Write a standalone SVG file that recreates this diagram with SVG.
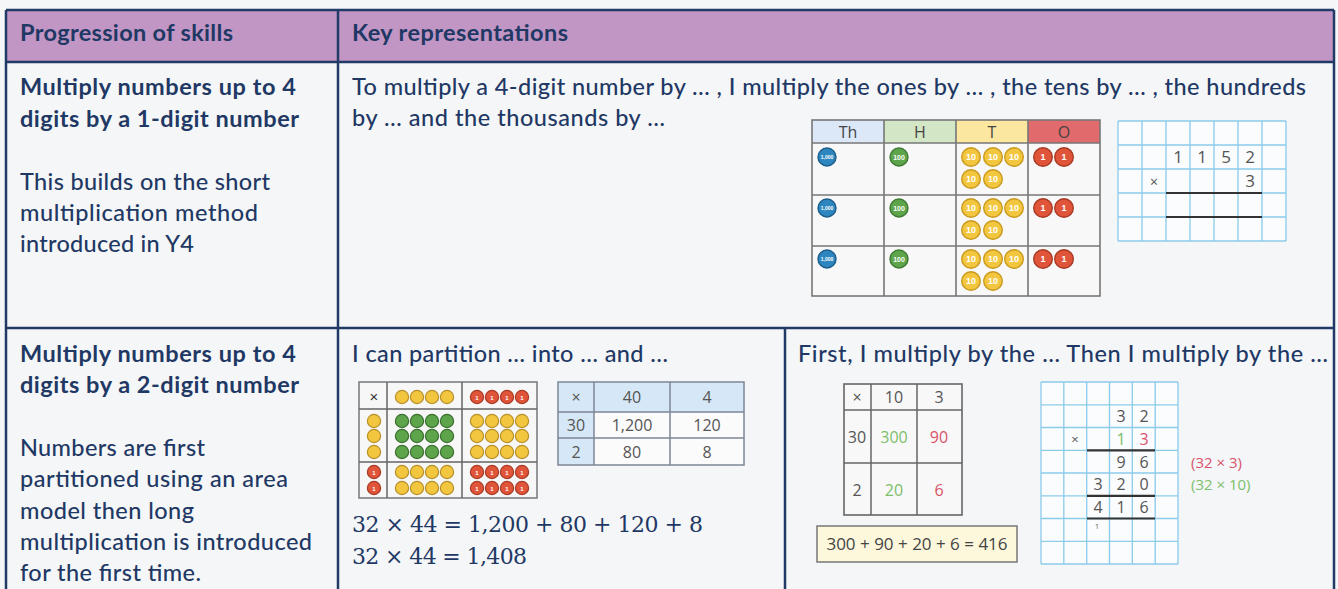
<svg xmlns="http://www.w3.org/2000/svg" xmlns:xlink="http://www.w3.org/1999/xlink" width="1338" height="589" viewBox="0 0 1338 589">
<style>
.t{font-family:Lato,"Open Sans","Liberation Sans",sans-serif;fill:#1f3864;font-size:23.5px;font-weight:500}
.b{font-weight:bold}
.m{font-family:"DejaVu Serif","Liberation Serif",serif;fill:#1f3864;font-size:22px}
.g{font-family:"Open Sans","Liberation Sans",sans-serif;fill:#555;font-size:16px;text-anchor:middle}
.grid{stroke:#8ccbea;stroke-width:1.3;fill:none}
.thick{stroke:#333;stroke-width:2.2}
.cell{stroke:#666;stroke-width:1.5;fill:none}
.ct{font-family:"Liberation Sans",sans-serif;font-size:7px;fill:#fff;text-anchor:middle;font-weight:bold}
</style>
<defs>
<g id="cy"><circle r="9.3" fill="#f3c63f" stroke="#c89a1e" stroke-width="1.4"/><text class="ct" y="3" style="font-size:9px">10</text></g>
<g id="cr"><circle r="9.3" fill="#e0553a" stroke="#a83a25" stroke-width="1.4"/><text class="ct" y="3" style="font-size:9px">1</text></g>
<g id="cg"><circle r="9" fill="#5ea44b" stroke="#3f7a35" stroke-width="1.4"/><text class="ct" y="2.5">100</text></g>
<g id="cb"><circle r="9" fill="#2e86c0" stroke="#1d5d8a" stroke-width="1.4"/><text class="ct" y="2" style="font-size:5px">1,000</text></g>
<g id="sy"><circle r="6.6" fill="#f3c63f" stroke="#b8902a" stroke-width="1.2"/></g>
<g id="sr"><circle r="6.6" fill="#e0553a" stroke="#a83a25" stroke-width="1.2"/><text class="ct" y="2.5" style="font-size:6px">1</text></g>
<g id="sg"><circle r="6.6" fill="#5ea44b" stroke="#3b7030" stroke-width="1.2"/></g>
</defs>
<rect width="1338" height="589" fill="#f4f6f8"/>

<g id="table">
<rect x="6" y="10" width="1328" height="52" fill="#c196c4"/>
<g stroke="#213a66" stroke-width="2.5" fill="none">
<path d="M6 10 H1334 M6 62 H1334 M6 328 H1334 M6 10 V589 M1334 10 V589 M338 10 V589 M785 328 V589"/>
</g>
<text class="t b" x="20" y="41" textLength="213">Progression of skills</text>
<text class="t b" x="352" y="41" textLength="216">Key representations</text>
</g>

<g id="row1-skill">
<text class="t b" x="20" y="95" textLength="276">Multiply numbers up to 4</text>
<text class="t b" x="20" y="127" textLength="279">digits by a 1-digit number</text>
<text class="t" x="20" y="190" textLength="250">This builds on the short</text>
<text class="t" x="20" y="221" textLength="238">multiplication method</text>
<text class="t" x="20" y="252" textLength="174">introduced in Y4</text>
</g>

<g id="row1-rep">
<text class="t" x="352" y="95" textLength="954">To multiply a 4-digit number by … , I multiply the ones by … , the tens by … , the hundreds</text>
<text class="t" x="352" y="126" textLength="313">by … and the thousands by …</text>
</g>

<g id="pv-chart">
<rect x="812" y="120" width="72" height="23" fill="#dce8f8"/>
<rect x="884" y="120" width="72" height="23" fill="#d3e6c6"/>
<rect x="956" y="120" width="72" height="23" fill="#fbe7a0"/>
<rect x="1028" y="120" width="72" height="23" fill="#e06a6c"/>
<rect x="812" y="143" width="288" height="153" fill="#f8f8f8"/>
<g stroke="#777" stroke-width="1.6" fill="none">
<rect x="812" y="120" width="288" height="176"/>
<path d="M812 143H1100 M812 195H1100 M812 246H1100 M884 120V296 M956 120V296 M1028 120V296"/>
</g>
<g font-family="Open Sans,Liberation Sans,sans-serif" font-size="16" fill="#444" text-anchor="middle">
<text x="848" y="138">Th</text><text x="920" y="138">H</text><text x="992" y="138">T</text><text x="1064" y="138">O</text>
</g>
<g id="pvrow">
<use href="#cb" x="827" y="157"/>
<use href="#cg" x="899" y="157"/>
<use href="#cy" x="971" y="157"/><use href="#cy" x="993" y="157"/><use href="#cy" x="1014" y="157"/>
<use href="#cy" x="971" y="179"/><use href="#cy" x="993" y="179"/>
<use href="#cr" x="1043" y="157"/><use href="#cr" x="1064" y="157"/>
</g>
<use href="#pvrow" y="51"/>
<use href="#pvrow" y="102"/>
</g>

<g id="grid1">
<rect x="1118" y="121" width="168" height="120" fill="#fafcfd"/>
<path class="grid" d="M1118 121H1286 M1118 145H1286 M1118 169H1286 M1118 193H1286 M1118 217H1286 M1118 241H1286 M1118 121V241 M1142 121V241 M1166 121V241 M1190 121V241 M1214 121V241 M1238 121V241 M1262 121V241 M1286 121V241"/>
<path class="thick" d="M1166 193H1262 M1166 217H1262"/>
<g class="g" style="font-size:17px">
<text x="1178" y="163">1</text><text x="1202" y="163">1</text><text x="1226" y="163">5</text><text x="1250" y="163">2</text>
<text x="1154" y="187" style="font-size:14px">×</text><text x="1250" y="187">3</text>
</g>
</g>

<g id="row2-skill">
<text class="t b" x="20" y="362" textLength="276">Multiply numbers up to 4</text>
<text class="t b" x="20" y="393" textLength="279">digits by a 2-digit number</text>
<text class="t" x="20" y="456" textLength="185">Numbers are first</text>
<text class="t" x="20" y="487" textLength="268">partitioned using an area</text>
<text class="t" x="20" y="519" textLength="174">model then long</text>
<text class="t" x="20" y="550" textLength="292">multiplication is introduced</text>
<text class="t" x="20" y="581" textLength="181">for the first time.</text>
</g>

<g id="row2-partition">
<text class="t" x="352" y="362" textLength="316">I can partition … into … and …</text>
<text class="m" x="352" y="532" textLength="351">32 × 44 = 1,200 + 80 + 120 + 8</text>
<text class="m" x="352" y="564" textLength="175">32 × 44 = 1,408</text>
</g>

<g id="area-model">
<rect x="359" y="382" width="178" height="116" fill="#f7f7f7" stroke="#777" stroke-width="1.5"/>
<path class="cell" d="M387 382V498 M462 382V498 M359 409H537 M359 462H537"/>
<text x="374" y="402" font-family="Liberation Sans,sans-serif" font-size="15" fill="#333" text-anchor="middle">×</text>
<g>
<use href="#sy" x="402" y="397"/><use href="#sy" x="417" y="397"/><use href="#sy" x="432" y="397"/><use href="#sy" x="447" y="397"/>
<use href="#sr" x="477" y="397"/><use href="#sr" x="492" y="397"/><use href="#sr" x="507" y="397"/><use href="#sr" x="522" y="397"/>
<use href="#sy" x="374" y="421"/><use href="#sy" x="374" y="436"/><use href="#sy" x="374" y="452"/>
<use href="#sr" x="374" y="472"/><use href="#sr" x="374" y="488"/>
</g>
<g id="gblock">
<use href="#sg" x="402" y="421"/><use href="#sg" x="417" y="421"/><use href="#sg" x="432" y="421"/><use href="#sg" x="447" y="421"/>
<use href="#sg" x="402" y="436"/><use href="#sg" x="417" y="436"/><use href="#sg" x="432" y="436"/><use href="#sg" x="447" y="436"/>
<use href="#sg" x="402" y="452"/><use href="#sg" x="417" y="452"/><use href="#sg" x="432" y="452"/><use href="#sg" x="447" y="452"/>
</g>
<g>
<use href="#sy" x="477" y="421"/><use href="#sy" x="492" y="421"/><use href="#sy" x="507" y="421"/><use href="#sy" x="522" y="421"/>
<use href="#sy" x="477" y="436"/><use href="#sy" x="492" y="436"/><use href="#sy" x="507" y="436"/><use href="#sy" x="522" y="436"/>
<use href="#sy" x="477" y="452"/><use href="#sy" x="492" y="452"/><use href="#sy" x="507" y="452"/><use href="#sy" x="522" y="452"/>
<use href="#sy" x="402" y="472"/><use href="#sy" x="417" y="472"/><use href="#sy" x="432" y="472"/><use href="#sy" x="447" y="472"/>
<use href="#sy" x="402" y="488"/><use href="#sy" x="417" y="488"/><use href="#sy" x="432" y="488"/><use href="#sy" x="447" y="488"/>
<use href="#sr" x="477" y="472"/><use href="#sr" x="492" y="472"/><use href="#sr" x="507" y="472"/><use href="#sr" x="522" y="472"/>
<use href="#sr" x="477" y="488"/><use href="#sr" x="492" y="488"/><use href="#sr" x="507" y="488"/><use href="#sr" x="522" y="488"/>
</g>
</g>

<g id="grid-table">
<rect x="558" y="382" width="186" height="83" fill="#fbfbfb"/>
<rect x="558" y="382" width="186" height="30" fill="#d6e8f7"/>
<rect x="558" y="382" width="36" height="83" fill="#d6e8f7"/>
<g stroke="#7d8796" stroke-width="1.5" fill="none">
<rect x="558" y="382" width="186" height="83"/>
<path d="M594 382V465 M670 382V465 M558 412H744 M558 438H744"/>
</g>
<g class="g">
<text x="576" y="403">×</text><text x="632" y="403">40</text><text x="707" y="403">4</text>
<text x="576" y="431">30</text><text x="632" y="431">1,200</text><text x="707" y="431">120</text>
<text x="576" y="458">2</text><text x="632" y="458">80</text><text x="707" y="458">8</text>
</g>
</g>

<g id="row2-column">
<text class="t" x="798" y="362" textLength="530">First, I multiply by the … Then I multiply by the …</text>
</g>

<g id="area-10-3">
<rect x="844" y="384" width="118" height="131" fill="#f8f8f8" stroke="#666" stroke-width="1.6"/>
<path class="cell" d="M871 384V515 M917 384V515 M844 410H962 M844 463H962"/>
<g class="g">
<text x="857" y="403">×</text><text x="894" y="403">10</text><text x="939" y="403">3</text>
<text x="857" y="443">30</text><text x="894" y="443" fill="#7cbf6a">300</text><text x="939" y="443" fill="#d9536a">90</text>
<text x="857" y="496">2</text><text x="894" y="496" fill="#7cbf6a">20</text><text x="939" y="496" fill="#d9536a">6</text>
</g>
</g>

<g id="sum-box">
<rect x="817" y="526" width="200" height="36" fill="#fdf8dc" stroke="#777" stroke-width="1.5"/>
<text class="g" x="917" y="550" style="font-size:17px;fill:#444">300 + 90 + 20 + 6 = 416</text>
</g>

<g id="grid2">
<rect x="1041" y="382" width="137" height="182" fill="#fafcfd"/>
<path class="grid" d="M1041 382H1178 M1041 404.8H1178 M1041 427.5H1178 M1041 450.3H1178 M1041 473H1178 M1041 495.8H1178 M1041 518.5H1178 M1041 541.3H1178 M1041 564H1178 M1041 382V564 M1063.8 382V564 M1086.7 382V564 M1109.5 382V564 M1132.3 382V564 M1155.2 382V564 M1178 382V564"/>
<path class="thick" d="M1087 450.3H1155 M1087 495.8H1155 M1087 518.5H1155"/>
<g class="g">
<text x="1121" y="422">3</text><text x="1144" y="422">2</text>
<text x="1075" y="444" style="font-size:13px">×</text><text x="1121" y="445" fill="#7cbf6a">1</text><text x="1144" y="445" fill="#d9536a">3</text>
<text x="1121" y="468">9</text><text x="1144" y="468">6</text>
<text x="1098" y="490">3</text><text x="1121" y="490">2</text><text x="1144" y="490">0</text>
<text x="1098" y="513">4</text><text x="1121" y="513">1</text><text x="1144" y="513">6</text>
<text x="1097" y="529" style="font-size:7px">1</text>
</g>
<text x="1191" y="468" font-family="Open Sans,Liberation Sans,sans-serif" font-size="15" fill="#d9536a">(32 × 3)</text>
<text x="1191" y="490" font-family="Open Sans,Liberation Sans,sans-serif" font-size="15" fill="#7cbf6a">(32 × 10)</text>
</g>
</svg>
